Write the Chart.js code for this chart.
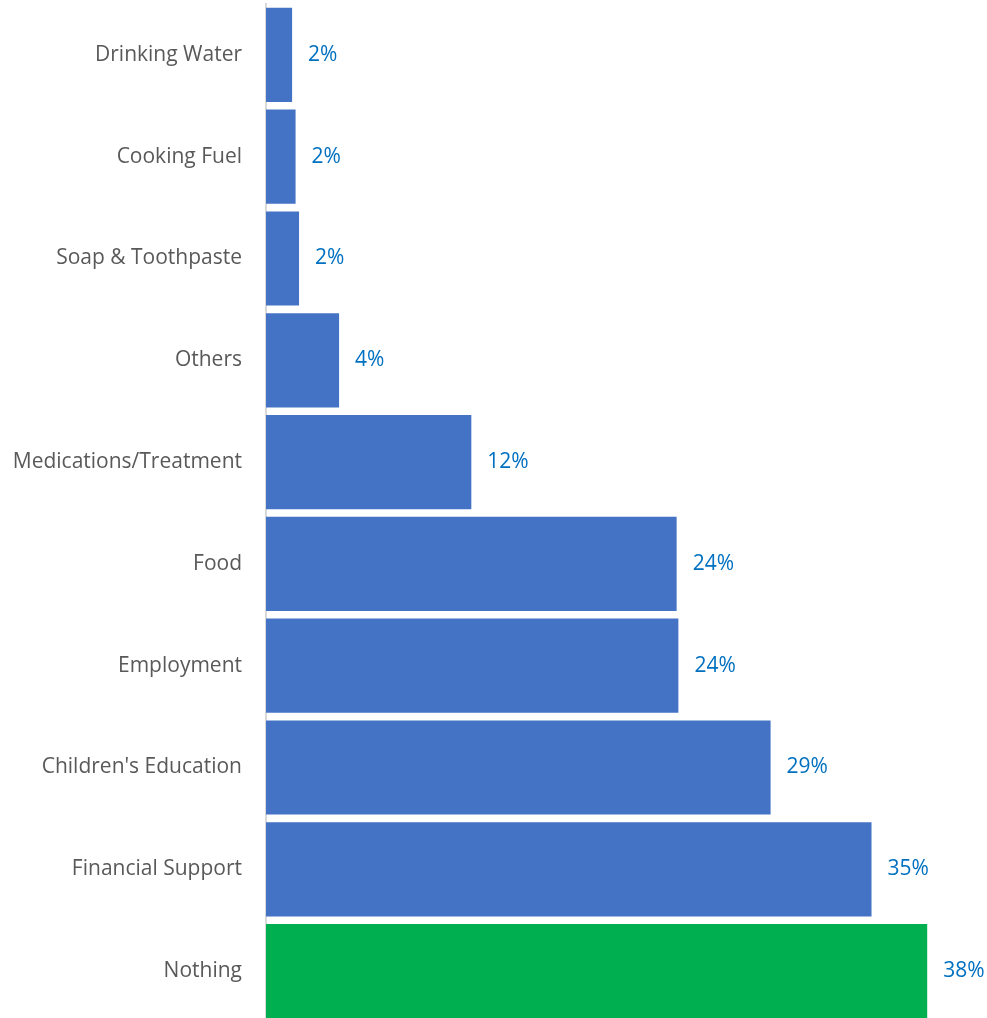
<!DOCTYPE html>
<html>
<head>
<meta charset="utf-8">
<script src="https://cdn.jsdelivr.net/npm/chart.js@4/dist/chart.umd.min.js"></script>
<style>
  html, body { margin: 0; padding: 0; background: #fff; overflow: hidden; }
  #wrap { width: 987px; height: 1022px; position: relative; }
</style>
</head>
<body>
<div id="wrap"><canvas id="chart"></canvas></div>
<script>
// categories, top to bottom
const categories = [
  'Drinking Water', 'Cooking Fuel', 'Soap & Toothpaste', 'Others',
  'Medications/Treatment', 'Food', 'Employment', "Children's Education",
  'Financial Support', 'Nothing'
];
// share of respondents (%)
const values = [1.5, 1.7, 1.9, 4.2, 11.8, 23.6, 23.7, 29.0, 34.8, 38.0];
const barColors = [
  '#4472C4', '#4472C4', '#4472C4', '#4472C4', '#4472C4',
  '#4472C4', '#4472C4', '#4472C4', '#4472C4', '#00B050'
];

const FONT = "'Open Sans', sans-serif";

// value labels drawn to the right of each bar
const valueLabels = {
  id: 'valueLabels',
  afterDatasetsDraw(chart) {
    const { ctx } = chart;
    const meta = chart.getDatasetMeta(0);
    ctx.save();
    ctx.font = '21px ' + FONT;
    ctx.fillStyle = '#0070C0';
    ctx.textBaseline = 'middle';
    ctx.textAlign = 'left';
    meta.data.forEach((bar, i) => {
      ctx.fillText(Math.round(values[i]) + '%', bar.x + 16, bar.y);
    });
    ctx.restore();
  }
};

new Chart(document.getElementById('chart'), {
  type: 'bar',
  data: {
    labels: categories,
    datasets: [{
      data: values,
      backgroundColor: barColors,
      barPercentage: 0.925,
      categoryPercentage: 1.0
    }]
  },
  options: {
    indexAxis: 'y',
    responsive: true,
    maintainAspectRatio: false,
    animation: false,
    layout: { padding: { top: 4, right: 25, bottom: 0, left: 0 } },
    plugins: { legend: { display: false }, tooltip: { enabled: false } },
    scales: {
      x: { display: false, min: 0, max: 40 },
      y: {
        grid: { display: false },
        border: { display: true, color: '#d9d9d9', width: 2 },
        ticks: { color: '#595959', font: { family: FONT, size: 21 }, padding: 16 },
        afterFit: (s) => { s.width = 266; s.paddingTop = 0; s.paddingBottom = 0; }
      }
    }
  },
  plugins: [valueLabels]
});
</script>
</body>
</html>
